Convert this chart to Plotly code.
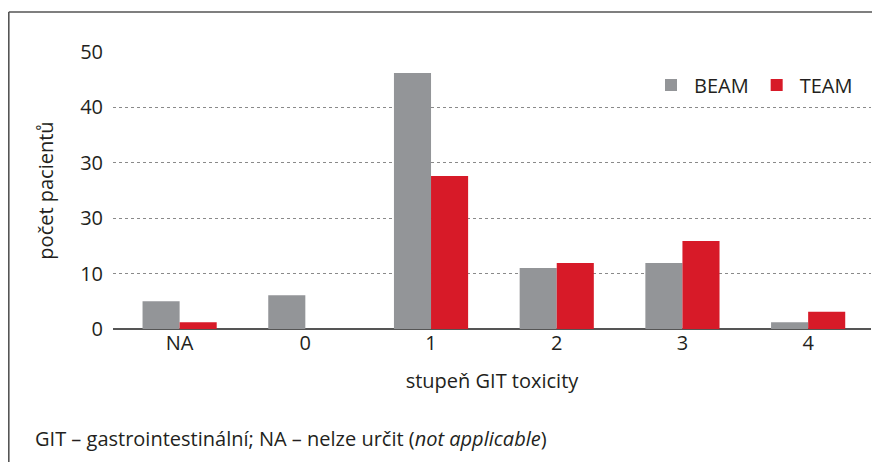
import plotly.graph_objects as go

categories = ["NA", "0", "1", "2", "3", "4"]
beam = [5.0, 6.1, 46.2, 11.0, 11.9, 1.2]
team = [1.2, 0.0, 27.6, 11.9, 15.9, 3.1]
ytick_vals = [0, 10, 20, 30, 40, 50]
ytick_text = ["0", "10", "30", "30", "40", "50"]

FONT = "Open Sans"
TXT = "#231f20"
FS = 20

# page body has an 8px margin; work in reference pixel coords and shift
OFF = 8
W, H = 872, 454
L, R, T, B = 113 - OFF, 9, 52 - OFF, 454 - (329 - OFF)
pw = W - L - R
ph = H - T - B

def px_x(px):
    return (px - OFF - L) / pw

def px_y(py):
    return (H - B - (py - OFF)) / ph

fig = go.Figure()
fig.add_trace(go.Bar(name="BEAM", x=categories, y=beam, marker_color="#939598",
                     marker_line_width=0))
fig.add_trace(go.Bar(name="TEAM", x=categories, y=team, marker_color="#d71a28",
                     marker_line_width=0))

fig.update_layout(
    width=W, height=H,
    margin=dict(l=L, r=R, t=T, b=B),
    paper_bgcolor="white", plot_bgcolor="white",
    font=dict(family=FONT, size=FS, color=TXT),
    barmode="group", bargap=0.41, bargroupgap=0,
    showlegend=True,
    legend=dict(orientation="h", x=px_x(858), xanchor="right", y=px_y(85), yanchor="middle",
                font=dict(size=FS, color=TXT), itemwidth=36, traceorder="normal",
                bgcolor="rgba(0,0,0,0)"),
    xaxis=dict(type="category", range=[-0.53, 5.5], showgrid=False, zeroline=False,
               showline=False, ticks="",
               tickfont=dict(size=FS, color=TXT),
               title=dict(text="stupeň GIT toxicity", font=dict(size=FS, color=TXT), standoff=18)),
    yaxis=dict(range=[0, 50], tickvals=ytick_vals, ticktext=ytick_text,
               showgrid=True, gridcolor="#8a8a8a", griddash="dot", gridwidth=1,
               zeroline=True, zerolinecolor="#555555", zerolinewidth=2,
               showline=False, ticks="", ticklabelstandoff=9,
               tickfont=dict(size=FS, color=TXT),
               title=dict(text="počet pacientů", font=dict(size=FS, color=TXT), standoff=21)),
    shapes=[
        dict(type="line", xref="paper", yref="paper", x0=px_x(8.8), x1=px_x(8.8),
             y0=px_y(12), y1=px_y(480), line=dict(color="#555555", width=1.6)),
        dict(type="line", xref="paper", yref="paper", x0=px_x(8.8), x1=px_x(900),
             y0=px_y(12), y1=px_y(12), line=dict(color="#555555", width=1.6)),
    ],
    annotations=[
        dict(xref="paper", yref="paper", x=px_x(33), y=px_y(438), xanchor="left",
             yanchor="middle", showarrow=False,
             text="GIT – gastrointestinální; NA – nelze určit (<i>not applicable</i>)",
             font=dict(size=FS, color=TXT)),
    ],
)

fig.write_html("out.html")
